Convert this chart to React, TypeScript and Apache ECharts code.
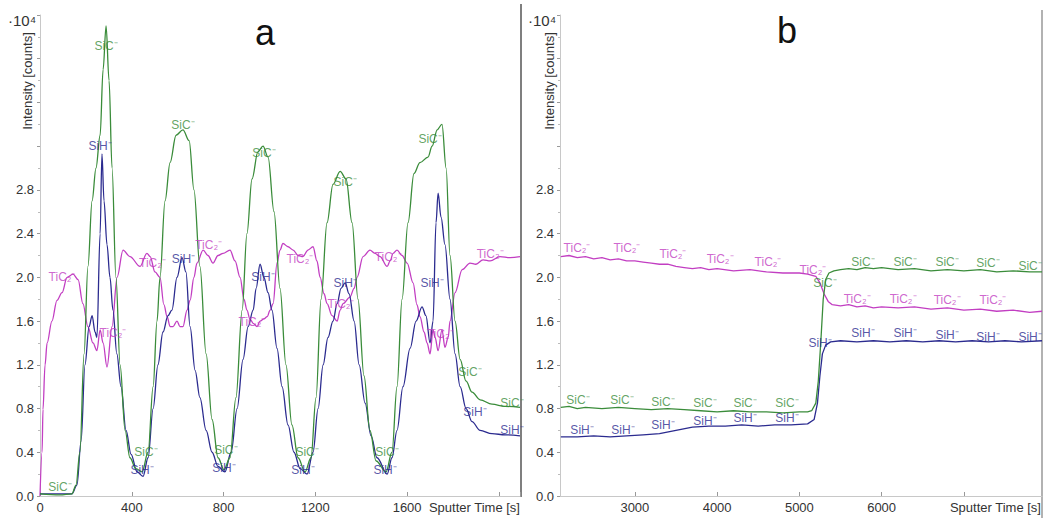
import React, { useEffect, useRef } from "react";
import * as echarts from "echarts";

// ---------- Panel a (0 – ~2090 s) ----------
const sicATime = [0, 87, 139, 157, 174, 192, 209, 227, 244, 262, 275, 288, 301, 314, 331, 349, 371, 392, 418, 445, 471, 493, 510, 523, 545, 567, 593, 623, 650, 671, 697, 724, 750, 776, 802, 828, 854, 881, 902, 924, 950, 972, 994, 1020, 1046, 1072, 1098, 1125, 1155, 1181, 1203, 1225, 1251, 1277, 1308, 1334, 1360, 1386, 1412, 1438, 1465, 1508, 1534, 1556, 1578, 1604, 1630, 1656, 1691, 1709, 1731, 1752, 1770, 1787, 1809, 1831, 1857, 1883, 1918, 1970, 2027, 2092];
const sicAVal = [0.02, 0.01, 0.02, 0.1, 0.4, 1.3, 2.1, 2.7, 3.0, 3.3, 3.9, 4.3, 3.8, 3.0, 2.0, 1.2, 0.6, 0.35, 0.25, 0.22, 0.4, 1.0, 1.6, 2.0, 2.7, 3.05, 3.3, 3.35, 3.25, 2.8, 2.1, 1.3, 0.7, 0.35, 0.24, 0.35, 0.9, 1.7, 2.4, 2.9, 3.15, 3.2, 3.1, 2.6, 1.9, 1.2, 0.65, 0.35, 0.22, 0.35, 0.9, 1.8, 2.5, 2.85, 2.97, 2.9, 2.5, 1.8, 1.1, 0.6, 0.32, 0.22, 0.4, 1.0, 1.8, 2.5, 2.95, 3.05, 3.1, 3.2, 3.35, 3.4, 3.0, 2.2, 1.6, 1.25, 1.05, 0.95, 0.88, 0.84, 0.82, 0.81];

const sihATime = [0, 139, 161, 179, 196, 214, 227, 240, 248, 262, 270, 279, 292, 305, 318, 335, 353, 375, 397, 423, 449, 471, 493, 514, 536, 558, 575, 597, 619, 636, 654, 676, 697, 724, 750, 776, 806, 833, 859, 885, 907, 929, 942, 959, 976, 994, 1011, 1033, 1055, 1081, 1107, 1134, 1164, 1190, 1212, 1234, 1255, 1277, 1295, 1312, 1330, 1347, 1369, 1391, 1417, 1443, 1469, 1513, 1534, 1556, 1582, 1613, 1639, 1665, 1682, 1700, 1713, 1726, 1735, 1748, 1765, 1787, 1809, 1831, 1857, 1883, 1918, 1970, 2027, 2092];
const sihAVal = [0.02, 0.02, 0.1, 0.5, 1.2, 1.55, 1.65, 1.5, 1.45, 2.4, 3.13, 2.7, 2.3, 2.0, 1.7, 1.3, 1.0, 0.6, 0.38, 0.22, 0.18, 0.35, 0.8, 1.2, 1.5, 1.65, 1.7, 2.0, 2.18, 2.05, 1.55, 1.15, 0.9, 0.6, 0.4, 0.27, 0.22, 0.4, 0.8, 1.25, 1.55, 1.7, 1.9, 2.12, 2.0, 1.86, 1.7, 1.35, 1.0, 0.65, 0.4, 0.25, 0.2, 0.4, 0.8, 1.2, 1.45, 1.6, 1.76, 1.9, 1.95, 1.85, 1.6, 1.2, 0.85, 0.55, 0.35, 0.2, 0.35, 0.6, 1.0, 1.35, 1.6, 1.73, 1.65, 1.4, 1.6, 2.5, 2.77, 2.55, 2.3, 1.8, 1.3, 1.0, 0.8, 0.68, 0.6, 0.57, 0.56, 0.55];

const ticATime = [0, 9, 13, 22, 31, 52, 74, 96, 118, 144, 166, 187, 209, 231, 248, 262, 275, 292, 314, 336, 362, 392, 436, 466, 480, 501, 523, 540, 554, 567, 580, 597, 610, 623, 641, 654, 671, 684, 711, 732, 754, 776, 798, 828, 850, 872, 889, 902, 915, 929, 946, 959, 976, 990, 1003, 1016, 1033, 1046, 1059, 1081, 1103, 1125, 1146, 1168, 1190, 1207, 1221, 1238, 1251, 1273, 1295, 1308, 1321, 1351, 1369, 1382, 1408, 1438, 1460, 1482, 1513, 1526, 1539, 1556, 1578, 1600, 1626, 1643, 1656, 1674, 1687, 1700, 1713, 1722, 1735, 1752, 1765, 1779, 1787, 1809, 1840, 1874, 1900, 1931, 1962, 2005, 2049, 2092];
const ticAVal = [0.0, 0.4, 0.79, 1.2, 1.4, 1.6, 1.79, 1.86, 2.0, 2.03, 1.98, 1.76, 1.55, 1.4, 1.33, 1.52, 1.4, 1.18, 1.55, 2.0, 2.25, 2.19, 2.1, 2.22, 2.19, 2.05, 2.0, 1.75, 1.64, 1.55, 1.55, 1.6, 1.55, 1.55, 1.7, 1.79, 2.0, 2.13, 2.25, 2.2, 2.13, 2.2, 2.22, 2.25, 2.15, 2.0, 1.8, 1.7, 1.62, 1.58, 1.55, 1.6, 1.62, 1.64, 1.7, 1.76, 2.13, 2.25, 2.31, 2.28, 2.25, 2.2, 2.19, 2.25, 2.28, 2.15, 2.0, 1.85, 1.76, 1.65, 1.6, 1.7, 1.76, 1.82, 1.9, 2.0, 2.19, 2.25, 2.22, 2.19, 2.1, 2.15, 2.22, 2.25, 2.2, 2.13, 1.95, 1.75, 1.64, 1.5, 1.4, 1.3, 1.52, 1.45, 1.33, 1.52, 1.36, 1.45, 1.6, 1.86, 2.07, 2.13, 2.12, 2.16, 2.15, 2.19, 2.18, 2.19];

// ---------- Panel b (~2090 – 7950 s) ----------
const ticBTime = [2100, 2200, 2300, 2400, 2500, 2600, 2700, 2800, 2900, 3000, 3100, 3200, 3300, 3400, 3500, 3600, 3700, 3800, 3900, 4000, 4200, 4400, 4600, 4800, 5000, 5100, 5200, 5250, 5300, 5350, 5400, 5500, 5600, 5700, 5800, 5900, 6000, 6200, 6400, 6600, 6800, 7000, 7200, 7400, 7600, 7800, 7950];
const ticBVal = [2.19, 2.2, 2.18, 2.19, 2.17, 2.18, 2.16, 2.17, 2.15, 2.15, 2.14, 2.13, 2.12, 2.12, 2.1, 2.09, 2.08, 2.09, 2.07, 2.08, 2.06, 2.07, 2.05, 2.04, 2.04, 2.03, 2.01, 1.95, 1.85, 1.78, 1.75, 1.74, 1.75, 1.73, 1.74, 1.72, 1.73, 1.72, 1.73, 1.71, 1.72, 1.7, 1.71, 1.69, 1.7, 1.68, 1.69];

const sicBTime = [2100, 2200, 2300, 2400, 2600, 2800, 3000, 3200, 3400, 3600, 3800, 4000, 4200, 4400, 4600, 4800, 5000, 5100, 5150, 5200, 5230, 5260, 5290, 5320, 5360, 5420, 5500, 5600, 5700, 5800, 5900, 6000, 6200, 6400, 6600, 6800, 7000, 7200, 7400, 7600, 7800, 7950];
const sicBVal = [0.81, 0.82, 0.8, 0.81, 0.8, 0.81, 0.8, 0.79, 0.8, 0.79, 0.78, 0.77, 0.78, 0.77, 0.77, 0.76, 0.77, 0.77, 0.78, 0.85, 1.05, 1.4, 1.8, 1.98, 2.04, 2.06, 2.07, 2.08, 2.07, 2.09, 2.08, 2.09, 2.07, 2.08, 2.06, 2.07, 2.06, 2.07, 2.05, 2.06, 2.05, 2.05];

const sihBTime = [2100, 2300, 2500, 2700, 2900, 3100, 3300, 3500, 3700, 3900, 4100, 4300, 4500, 4700, 4900, 5100, 5180, 5220, 5250, 5280, 5320, 5380, 5500, 5700, 5900, 6100, 6300, 6500, 6700, 6900, 7100, 7300, 7500, 7700, 7950];
const sihBVal = [0.54, 0.54, 0.55, 0.54, 0.55, 0.56, 0.57, 0.6, 0.63, 0.64, 0.64, 0.65, 0.64, 0.65, 0.65, 0.66, 0.7, 0.85, 1.1, 1.3, 1.38, 1.41, 1.42, 1.41, 1.42, 1.41, 1.42, 1.41, 1.42, 1.41, 1.42, 1.41, 1.42, 1.41, 1.42];

// ---------- curve labels [time, intensity] ----------
const sicALabels = [[87, 0.08], [288, 4.12], [623, 3.39], [976, 3.14], [1330, 2.87], [1700, 3.27], [1874, 1.13], [2057, 0.85], [462, 0.4], [810, 0.42], [1164, 0.4], [1512, 0.4]];
const sihALabels = [[262, 3.2], [625, 2.17], [972, 2.0], [1330, 1.95], [1709, 1.95], [1896, 0.77], [2057, 0.6], [445, 0.24], [802, 0.26], [1146, 0.24], [1504, 0.24]];
const ticALabels = [[96, 2.0], [318, 1.49], [490, 2.13], [735, 2.3], [924, 1.59], [1133, 2.17], [1312, 1.76], [1517, 2.19], [1744, 1.48], [1962, 2.21]];
const ticBLabels = [[2297, 2.27], [2905, 2.27], [3464, 2.21], [4036, 2.17], [4619, 2.14], [5166, 2.07], [5702, 1.8], [6261, 1.8], [6796, 1.79], [7355, 1.79]];
const sicBLabels = [[2309, 0.88], [2844, 0.88], [3342, 0.86], [3853, 0.85], [4340, 0.85], [4850, 0.85], [5312, 1.95], [5774, 2.14], [6285, 2.14], [6796, 2.14], [7294, 2.13], [7805, 2.1]];
const sihBLabels = [[2358, 0.6], [2856, 0.6], [3342, 0.65], [3853, 0.69], [4340, 0.71], [4850, 0.71], [5252, 1.4], [5774, 1.49], [6285, 1.49], [6796, 1.47], [7294, 1.45], [7805, 1.45]];

const xTicksA = [0, 400, 800, 1200, 1600];
const xTicksB = [3000, 4000, 5000, 6000];

const C_SIC = "#3a8c3a";
const C_SIH = "#2b2b8f";
const C_TIC = "#c23ec2";
const FONT = "'Liberation Sans', Arial, sans-serif";

const zip = (t: number[], v: number[]) => t.map((x, i) => [x, v[i]]);

function lineSeries(name: string, t: number[], v: number[], color: string, idx: number, smooth: boolean) {
  return {
    type: "line",
    name,
    xAxisIndex: idx,
    yAxisIndex: idx,
    data: zip(t, v),
    showSymbol: false,
    symbol: "none",
    smooth: smooth ? 0.35 : false,
    smoothMonotone: smooth ? "x" : undefined,
    lineStyle: { color, width: 1.3 },
    silent: true,
    z: 2,
  };
}

function labelSeries(text: string, pts: number[][], color: string, idx: number) {
  return {
    type: "scatter",
    xAxisIndex: idx,
    yAxisIndex: idx,
    data: pts,
    symbol: "circle",
    symbolSize: 1,
    itemStyle: { color: "rgba(0,0,0,0)" },
    silent: true,
    z: 5,
    label: {
      show: true,
      position: "inside",
      formatter: text,
      color,
      fontSize: 12,
      fontFamily: FONT,
    },
  };
}

function yAxis(idx: number) {
  return {
    type: "value",
    gridIndex: idx,
    min: 0,
    max: 4.4,
    interval: 0.4,
    axisLine: { show: true, lineStyle: { color: "#c8c8c8", width: 1 } },
    axisTick: { show: true, length: 3, lineStyle: { color: "#999" } },
    minorTick: { show: true, splitNumber: 2, length: 2, lineStyle: { color: "#bbb" } },
    splitLine: { show: false },
    axisLabel: {
      color: "#333",
      fontSize: 13,
      fontFamily: FONT,
      margin: 6,
      formatter: (v: number) => (v <= 2.81 ? v.toFixed(1) : ""),
    },
  };
}

export default function App() {
  const ref = useRef<HTMLDivElement>(null);
  useEffect(() => {
    if (!ref.current) return;
    const chart = echarts.init(ref.current, undefined, { renderer: "svg" });
    const option = {
      animation: false,
      backgroundColor: "#ffffff",
      grid: [
        { left: 40, top: 15, width: 480, height: 481 },
        { left: 560, top: 15, width: 482, height: 481 },
      ],
      xAxis: [
        {
          type: "value",
          gridIndex: 0,
          min: 0,
          max: 2092,
          interval: 400,
          axisLine: { show: true, lineStyle: { color: "#c8c8c8" } },
          axisTick: { show: true, inside: true, length: 4, lineStyle: { color: "#999" } },
          splitLine: { show: false },
          axisLabel: {
            color: "#333",
            fontSize: 13,
            fontFamily: FONT,
            margin: 5,
            formatter: (v: number) => (xTicksA.includes(v) ? String(v) : ""),
          },
        },
        {
          type: "value",
          gridIndex: 1,
          min: 2090,
          max: 7950,
          axisLine: { show: true, lineStyle: { color: "#c8c8c8" } },
          axisTick: { show: true, inside: true, length: 4, lineStyle: { color: "#999" }, customValues: [3000, 4000, 5000, 6000, 7000] },
          splitLine: { show: false },
          axisLabel: {
            color: "#333",
            fontSize: 13,
            fontFamily: FONT,
            margin: 5,
            customValues: xTicksB,
            formatter: (v: number) => (xTicksB.includes(v) ? String(v) : ""),
          },
        },
      ],
      yAxis: [yAxis(0), yAxis(1)],
      series: [
        lineSeries("TiC2-", ticATime, ticAVal, C_TIC, 0, true),
        lineSeries("SiH-", sihATime, sihAVal, C_SIH, 0, true),
        lineSeries("SiC-", sicATime, sicAVal, C_SIC, 0, true),
        lineSeries("TiC2- b", ticBTime, ticBVal, C_TIC, 1, false),
        lineSeries("SiH- b", sihBTime, sihBVal, C_SIH, 1, false),
        lineSeries("SiC- b", sicBTime, sicBVal, C_SIC, 1, false),
        labelSeries("SiC⁻", sicALabels, C_SIC, 0),
        labelSeries("SiH⁻", sihALabels, C_SIH, 0),
        labelSeries("TiC₂⁻", ticALabels, C_TIC, 0),
        labelSeries("TiC₂⁻", ticBLabels, C_TIC, 1),
        labelSeries("SiC⁻", sicBLabels, C_SIC, 1),
        labelSeries("SiH⁻", sihBLabels, C_SIH, 1),
      ],
      graphic: [
        { type: "line", shape: { x1: 521, y1: 4, x2: 521, y2: 497 }, style: { stroke: "#555", lineWidth: 1.5 }, silent: true },
        { type: "line", shape: { x1: 1042, y1: 10, x2: 1042, y2: 518 }, style: { stroke: "#999", lineWidth: 1.5 }, silent: true },
        { type: "text", x: 8, y: 13, style: { text: "·10⁴", fontSize: 15, fontFamily: FONT, fill: "#333" }, silent: true },
        { type: "text", x: 528, y: 13, style: { text: "·10⁴", fontSize: 15, fontFamily: FONT, fill: "#333" }, silent: true },
        { type: "text", x: 27, y: 81, rotation: Math.PI / 2, style: { text: "Intensity [counts]", fontSize: 13, fontFamily: FONT, fill: "#333", textAlign: "center", textVerticalAlign: "middle" }, silent: true },
        { type: "text", x: 549, y: 81, rotation: Math.PI / 2, style: { text: "Intensity [counts]", fontSize: 13, fontFamily: FONT, fill: "#333", textAlign: "center", textVerticalAlign: "middle" }, silent: true },
        { type: "text", x: 265, y: 32, style: { text: "a", fontSize: 36, fontFamily: FONT, fill: "#111", textAlign: "center", textVerticalAlign: "middle" }, silent: true },
        { type: "text", x: 787, y: 30, style: { text: "b", fontSize: 36, fontFamily: FONT, fill: "#111", textAlign: "center", textVerticalAlign: "middle" }, silent: true },
        { type: "text", x: 520, y: 507, style: { text: "Sputter Time [s]", fontSize: 13, fontFamily: FONT, fill: "#333", textAlign: "right", textVerticalAlign: "middle" }, silent: true },
        { type: "text", x: 1041, y: 507, style: { text: "Sputter Time [s]", fontSize: 13, fontFamily: FONT, fill: "#333", textAlign: "right", textVerticalAlign: "middle" }, silent: true },
      ],
    };
    chart.setOption(option as any);
    return () => chart.dispose();
  }, []);
  return <div ref={ref} style={{ position: "absolute", left: 0, top: 0, width: 1046, height: 518 }} />;
}
